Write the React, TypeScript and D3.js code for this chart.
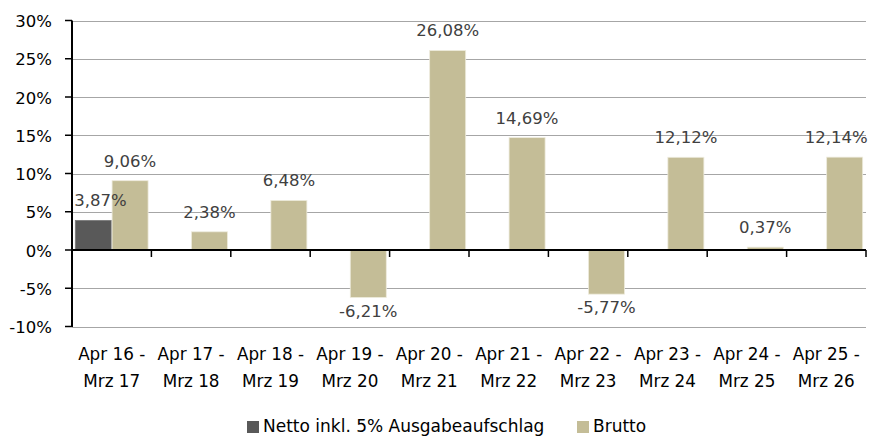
import React from "react";
import * as d3 from "d3";

const categories: string[][] = [
  ["Apr 16 -", "Mrz 17"],
  ["Apr 17 -", "Mrz 18"],
  ["Apr 18 -", "Mrz 19"],
  ["Apr 19 -", "Mrz 20"],
  ["Apr 20 -", "Mrz 21"],
  ["Apr 21 -", "Mrz 22"],
  ["Apr 22 -", "Mrz 23"],
  ["Apr 23 -", "Mrz 24"],
  ["Apr 24 -", "Mrz 25"],
  ["Apr 25 -", "Mrz 26"],
];
const nettoValues: (number | null)[] = [3.87, null, null, null, null, null, null, null, null, null];
const bruttoValues: (number | null)[] = [9.06, 2.38, 6.48, -6.21, 26.08, 14.69, -5.77, 12.12, 0.37, 12.14];
const seriesNames = ["Netto inkl. 5% Ausgabeaufschlag", "Brutto"];
const seriesColors = ["#595959", "#C4BD97"];
const yTicks = [-10, -5, 0, 5, 10, 15, 20, 25, 30];

const W = 873;
const H = 436;
const FONT = "'DejaVu Sans', sans-serif";

const fmt = (v: number) => v.toFixed(2).replace(".", ",") + "%";

export default function App() {
  const left = 72;
  const right = 866;
  const top = 20.5;
  const bottom = 326.5;

  const x0 = d3.scaleBand<number>().domain(categories.map((_, i) => i)).range([left, right]).paddingInner(0).paddingOuter(0);
  const x1 = d3.scaleBand<number>().domain([0, 1]).range([0, x0.bandwidth()]).paddingInner(0.02).paddingOuter(0.09);
  const y = d3.scaleLinear().domain([-10, 30]).range([bottom, top]);

  const series = [nettoValues, bruttoValues];
  const y0 = y(0);
  const labelFs = 16.5;

  const bars: JSX.Element[] = [];
  const labels: JSX.Element[] = [];
  series.forEach((vals, s) => {
    vals.forEach((v, i) => {
      if (v === null) return;
      const bx = (x0(i) as number) + (x1(s) as number);
      const bw = x1.bandwidth();
      const yv = y(v);
      const yTop = Math.min(yv, y0);
      const h = Math.abs(yv - y0);
      bars.push(
        <rect key={`b${s}-${i}`} x={bx} y={yTop} width={bw} height={h} fill={seriesColors[s]} stroke={s === 1 ? "#EEEBDD" : "#7a7a7a"} strokeWidth={0.8} />
      );
      const txt = fmt(v);
      const estW = txt.length * 0.62 * labelFs;
      let lx = Math.min(bx + bw / 2, W - 6 - estW / 2);
      lx = Math.max(lx, left + 3 + estW / 2);
      const ly = v >= 0 ? yv - 14 : yv + 19;
      labels.push(
        <text key={`l${s}-${i}`} x={lx} y={ly} textAnchor="middle" fontSize={labelFs} fill="#404040" fontFamily={FONT}>
          {txt}
        </text>
      );
    });
  });

  return (
    <svg width={W} height={H} style={{ position: "absolute", left: 0, top: 0, background: "#fff" }}>
      <rect x={0} y={0} width={W} height={H} fill="#fff" />
      {yTicks.filter((t) => t !== 0).map((t) => (
        <line key={`g${t}`} x1={left} x2={right} y1={Math.round(y(t)) + 0.5} y2={Math.round(y(t)) + 0.5} stroke="#A6A6A6" strokeWidth={1.2} />
      ))}
      {bars}
      <line x1={left} x2={left} y1={top} y2={bottom + 0.5} stroke="#000" strokeWidth={2} />
      {yTicks.map((t) => (
        <g key={`yt${t}`}>
          <line x1={left - 7} x2={left} y1={y(t)} y2={y(t)} stroke="#000" strokeWidth={1.5} />
          <text x={52} y={y(t) + 6.5} textAnchor="end" fontSize={16.5} fill="#000" fontFamily={FONT}>
            {`${t}%`}
          </text>
        </g>
      ))}
      <line x1={left} x2={right} y1={y0} y2={y0} stroke="#000" strokeWidth={2} />
      {categories.map((_, i) => (
        <line key={`xt${i}`} x1={(x0(i) as number) + x0.bandwidth()} x2={(x0(i) as number) + x0.bandwidth()} y1={y0} y2={y0 + 7} stroke="#000" strokeWidth={1.5} />
      ))}
      {labels}
      {categories.map((c, i) => (
        <text key={`xl${i}`} textAnchor="middle" fontSize={16.8} fill="#000" fontFamily={FONT}>
          <tspan x={(x0(i) as number) + x0.bandwidth() / 2} y={360}>{c[0]}</tspan>
          <tspan x={(x0(i) as number) + x0.bandwidth() / 2} y={386.7}>{c[1]}</tspan>
        </text>
      ))}
      <rect x={247} y={421} width={12} height={12} fill={seriesColors[0]} />
      <text x={263} y={432} fontSize={17} fill="#000" fontFamily={FONT}>{seriesNames[0]}</text>
      <rect x={577} y={421} width={12} height={12} fill={seriesColors[1]} />
      <text x={593} y={432} fontSize={17} fill="#000" fontFamily={FONT}>{seriesNames[1]}</text>
    </svg>
  );
}
